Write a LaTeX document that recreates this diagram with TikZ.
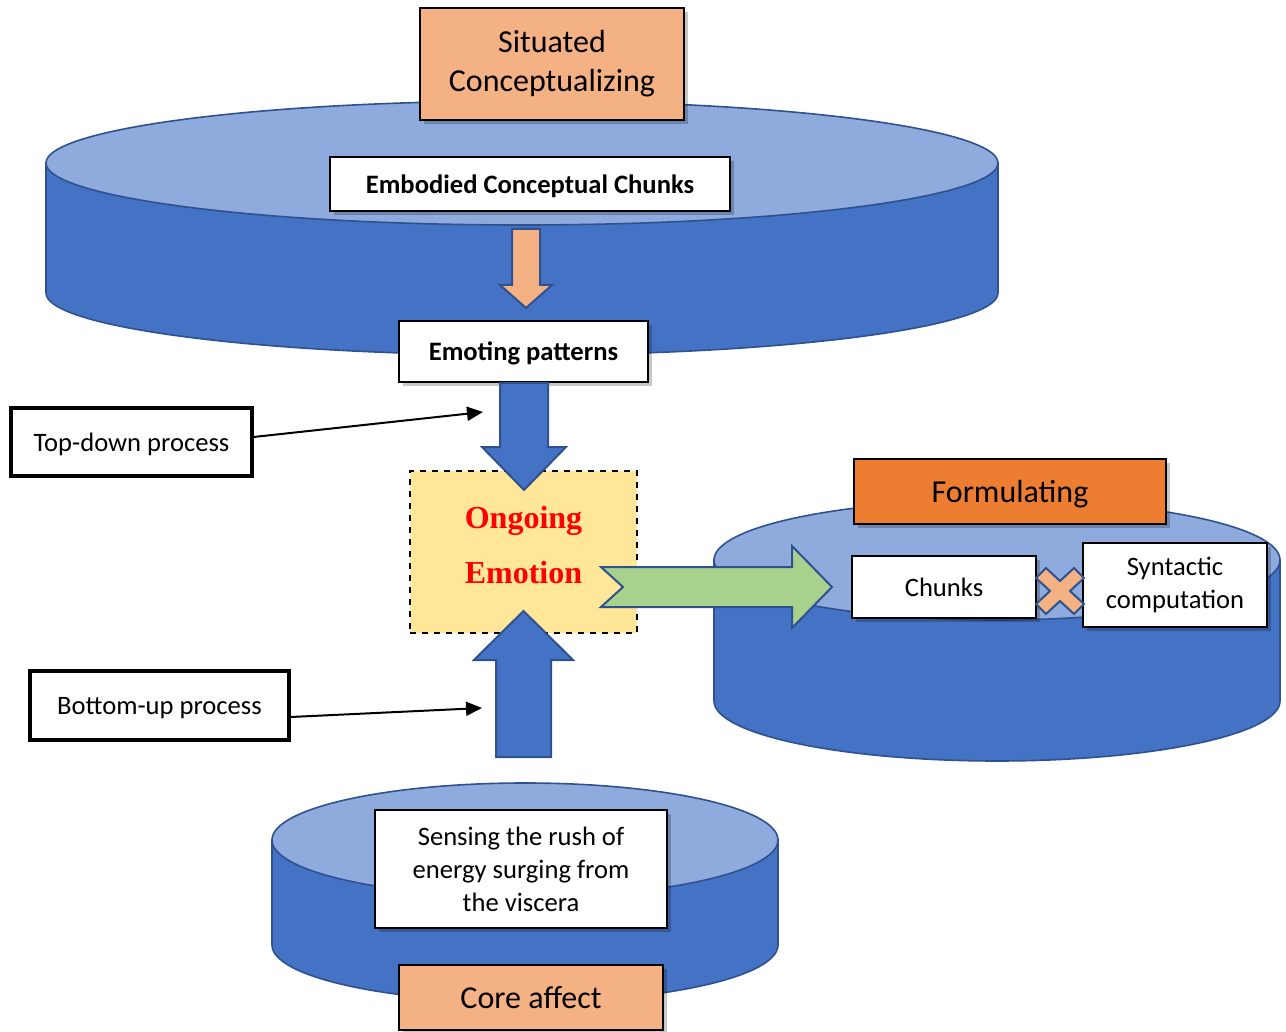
\documentclass[tikz,border=0pt]{standalone}
\usepackage{fontspec}
\setmainfont{Carlito}
\newfontfamily\timesfont{Liberation Serif}
\usetikzlibrary{arrows.meta,shadows}
\definecolor{cylside}{HTML}{4472C4}
\definecolor{cyltop}{HTML}{8FAADC}
\definecolor{cyledge}{HTML}{2F528F}
\definecolor{peach}{HTML}{F4B183}
\definecolor{orangeF}{HTML}{ED7D31}
\definecolor{yellowbox}{HTML}{FFE699}
\definecolor{greenA}{HTML}{A9D18E}
\newcommand\drawcyl[5]{%
  \draw[fill=cylside,draw=cyledge,line width=0.8pt] (#1-#2,#3) -- (#1-#2,#4)
    arc[start angle=180,end angle=0,x radius=#2,y radius=#5] -- (#1+#2,#3) -- cycle;
  \draw[fill=cyltop,draw=cyledge,line width=0.8pt] (#1,#3) ellipse[x radius=#2,y radius=#5];}
\begin{document}
\begin{tikzpicture}[x=0.5pt,y=-0.5pt,
  shad/.style={drop shadow={shadow xshift=2pt,shadow yshift=-2pt,opacity=0.22,fill=black}},
  box/.style={draw=black,line width=1pt,fill=white,align=center,inner sep=0pt,shad},
  peachbox/.style={box,fill=peach,font=\fontsize{16}{19.5}\selectfont},
  boldbox/.style={box,text depth=0pt,font=\fontsize{13.3}{16}\selectfont\bfseries},
  plainbox/.style={box,font=\fontsize{13.3}{16.5}\selectfont},
  sidebox/.style={draw=black,line width=1.6pt,fill=white,inner sep=0pt,text depth=0pt,font=\fontsize{13.3}{16}\selectfont},
  blockarrow/.style={draw=cyledge,line width=1pt,line join=miter},
  thinarrow/.style={draw=black,line width=1pt,-{Triangle[length=8pt,width=7pt]}}]
\useasboundingbox (0,0) rectangle (1286,1032);

% top cylinder
\drawcyl{522}{476}{163}{293}{62}
\node[peachbox,minimum width=132pt,minimum height=56pt] (sit) at (552,64) {Situated\\Conceptualizing};
\node[boldbox,minimum width=200pt,minimum height=27pt] (emb) at (530,184) {Embodied Conceptual Chunks};
\draw[blockarrow,fill=peach] (512,229) -- (540,229) -- (540,285) -- (552,285) -- (526,308) -- (500,285) -- (512,285) -- cycle;
\node[boldbox,minimum width=124.5pt,minimum height=30.5pt] (emo) at (523.5,351.5) {Emoting patterns};

% ongoing emotion
\node[draw=black,dashed,line width=1pt,fill=yellowbox,minimum width=113.5pt,minimum height=81pt,inner sep=0pt,
  align=center,text=red,text depth=7pt,font=\fontsize{16}{27.5}\selectfont\timesfont\bfseries] (ong) at (523.5,552) {Ongoing\\Emotion};

% blue arrows
\draw[blockarrow,fill=cylside] (500,383) -- (548,383) -- (548,447) -- (566,447) -- (524,490) -- (482,447) -- (500,447) -- cycle;
\draw[blockarrow,fill=cylside] (496,757) -- (551,757) -- (551,660) -- (573,660) -- (523.5,611) -- (474,660) -- (496,660) -- cycle;

% right cylinder
\drawcyl{997}{283}{560}{701}{60}
\node[box,fill=orangeF,text depth=0pt,font=\fontsize{16}{19.5}\selectfont,minimum width=156pt,minimum height=32.5pt] (form) at (1010,491.5) {Formulating};
\node[plainbox,minimum width=92pt,minimum height=31pt] (chunks) at (944,587) {Chunks};
\node[plainbox,minimum width=92pt,minimum height=42pt] (syn) at (1175,585) {Syntactic\\computation};
\draw[blockarrow,fill=peach] (1046,568) -- (1060,581) -- (1074,568) -- (1084,578) -- (1070,591) -- (1084,604)
  -- (1074,614) -- (1060,601) -- (1046,614) -- (1036,604) -- (1050,591) -- (1036,578) -- cycle;

% green arrow
\draw[blockarrow,fill=greenA] (601,567) -- (792,567) -- (792,546) -- (832,587) -- (792,628) -- (792,607) -- (601,607) -- (623,587) -- cycle;

% side labels
\node[sidebox,minimum width=120.5pt,minimum height=34pt] (td) at (131.5,442) {Top-down process};
\node[sidebox,minimum width=129.5pt,minimum height=34.5pt] (bu) at (159.5,705.5) {Bottom-up process};
\coordinate (tdend) at (483,412);
\coordinate (buend) at (482,708);
\draw[thinarrow] ([yshift=2.5pt]td.east) -- (tdend);
\draw[thinarrow] ([yshift=-5.75pt]bu.east) -- (buend);

% bottom cylinder
\drawcyl{525}{253}{840}{945}{57}
\node[plainbox,minimum width=146pt,minimum height=59pt] (sens) at (521,869) {Sensing the rush of\\energy surging from\\the viscera};
\node[peachbox,text depth=0pt,minimum width=132pt,minimum height=32.5pt] (core) at (531,997.5) {Core affect};
\end{tikzpicture}
\end{document}
